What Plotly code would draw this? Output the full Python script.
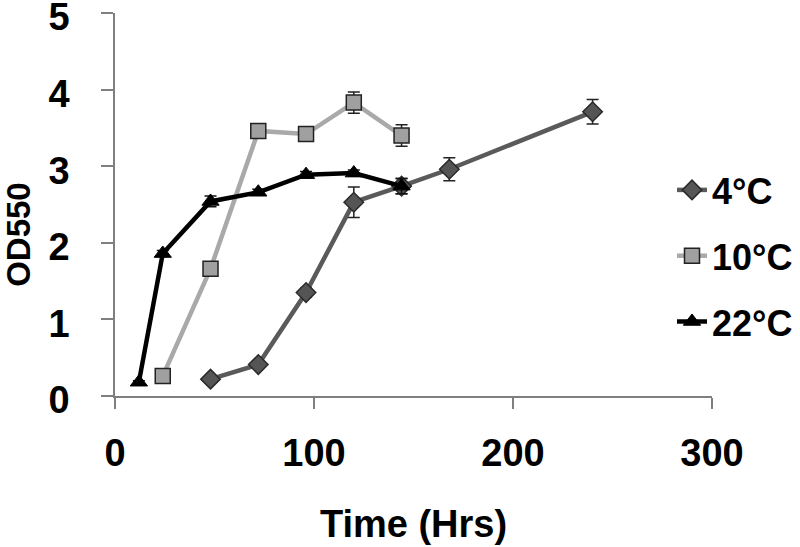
import plotly.graph_objects as go

# Data
t_4c = [48, 72, 96, 120, 144, 168, 240]
od_4c = [0.22, 0.41, 1.35, 2.53, 2.74, 2.96, 3.71]
err_4c = [0.03, 0.03, 0.06, 0.20, 0.10, 0.15, 0.16]

t_10c = [24, 48, 72, 96, 120, 144]
od_10c = [0.26, 1.66, 3.46, 3.42, 3.83, 3.40]
err_10c = [0.03, 0.04, 0.05, 0.04, 0.14, 0.14]

t_22c = [12, 24, 48, 72, 96, 120, 144]
od_22c = [0.18, 1.86, 2.54, 2.66, 2.89, 2.91, 2.74]
err_22c = [0.02, 0.04, 0.07, 0.04, 0.04, 0.04, 0.10]

series_names = ["4°C", "10°C", "22°C"]
x_ticks = [0, 100, 200, 300]
y_ticks = [0, 1, 2, 3, 4, 5]

FONT = "Liberation Sans, Arial, sans-serif"

fig = go.Figure()

fig.add_trace(go.Scatter(
    x=t_4c, y=od_4c, name=series_names[0], mode="lines+markers",
    legendgroup="a",
    line=dict(color="#5a5a5a", width=4.5),
    marker=dict(symbol="diamond", size=15, color="#555555",
                line=dict(color="#2a2a2a", width=1.5)),
    error_y=dict(type="data", array=err_4c, color="#222222", thickness=1.5, width=6),
    cliponaxis=False,
))
fig.add_trace(go.Scatter(
    x=t_10c, y=od_10c, name=series_names[1], mode="lines+markers",
    legendgroup="b",
    line=dict(color="#a9a9a9", width=4.5),
    marker=dict(symbol="square", size=15, color="#a0a0a0",
                line=dict(color="#222222", width=1.5)),
    error_y=dict(type="data", array=err_10c, color="#222222", thickness=1.5, width=6),
    cliponaxis=False,
))
fig.add_trace(go.Scatter(
    x=t_22c, y=od_22c, name=series_names[2], mode="lines+markers",
    legendgroup="c",
    line=dict(color="#000000", width=4.5),
    marker=dict(symbol="triangle-up", size=15, color="#000000",
                line=dict(color="#000000", width=1)),
    error_y=dict(type="data", array=err_22c, color="#111111", thickness=1.5, width=6),
    cliponaxis=False,
))

fig.update_layout(
    width=800, height=547,
    margin=dict(l=115, r=88, t=13, b=151, autoexpand=False),
    paper_bgcolor="white", plot_bgcolor="white",
    font=dict(family=FONT, color="black"),
    showlegend=True,
    legend=dict(
        xref="container", yref="container",
        x=0.84, xanchor="left", y=0.7075, yanchor="top",
        font=dict(family=FONT, size=36, color="black", weight="bold"),
        tracegroupgap=16, bgcolor="rgba(0,0,0,0)",
    ),
    xaxis=dict(
        range=[0, 300], tickvals=x_ticks, ticktext=[str(v) for v in x_ticks],
        showgrid=False, zeroline=False, automargin=False,
        showline=True, linecolor="#7f7f7f", linewidth=1.5,
        ticks="outside", ticklen=11, tickwidth=1.5, tickcolor="#7f7f7f",
        tickfont=dict(family=FONT, size=38, color="black", weight="bold"),
        ticklabelstandoff=12, ticklabeloverflow="allow",
        title=dict(text="Time (Hrs)", standoff=37,
                   font=dict(family=FONT, size=38, color="black", weight="bold")),
    ),
    yaxis=dict(
        range=[0, 5], tickvals=y_ticks, ticktext=[str(v) for v in y_ticks],
        showgrid=False, zeroline=False, automargin=False,
        showline=True, linecolor="#7f7f7f", linewidth=1.5,
        ticks="outside", ticklen=12, tickwidth=1.5, tickcolor="#7f7f7f",
        tickfont=dict(family=FONT, size=38, color="black", weight="bold"),
        ticklabelstandoff=24, ticklabeloverflow="allow", ticklabelshift=4,
    ),
    annotations=[dict(
        text="OD550", textangle=-90, showarrow=False,
        xref="paper", yref="paper", x=-0.161, y=0.423,
        xanchor="center", yanchor="middle",
        font=dict(family=FONT, size=33, color="black", weight="bold"),
    )],
)

fig.write_html("out.html", config={"displayModeBar": False},
               post_script="document.body.style.margin='0';")
